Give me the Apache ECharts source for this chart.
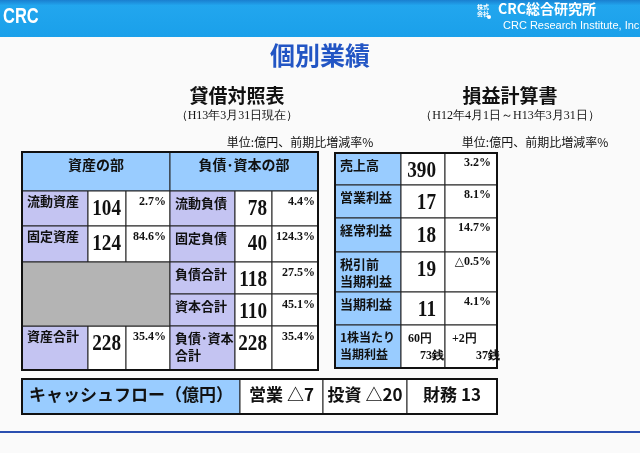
<!DOCTYPE html>
<html><head><meta charset="utf-8">
<script src="https://cdn.jsdelivr.net/npm/echarts@6/dist/echarts.min.js"></script>
<style>html,body{margin:0;padding:0;background:#fafafa}#c{width:640px;height:453px}</style>
</head><body><div id="c"></div>
<script>
// ---- data ----
const assetLabels = ['流動資産','固定資産','資産合計'];
const assetValues = ['104','124','228'];
const assetRates = ['2.7%','84.6%','35.4%'];
const liabLabels = ['流動負債','固定負債','負債合計','資本合計','負債･資本\n合計'];
const liabValues = ['78','40','118','110','228'];
const liabRates = ['4.4%','124.3%','27.5%','45.1%','35.4%'];
const plLabels = ['売上高','営業利益','経常利益','税引前\n当期利益','当期利益','1株当たり\n当期利益'];
const plValues = ['390','17','18','19','11','60円\n　73銭'];
const plRates = ['3.2%','8.1%','14.7%','△0.5%','4.1%','+2円\n　　37銭'];
const cfLabels = ['営業 △7','投資 △20','財務 13'];

const JP = '"Noto Sans CJK JP", sans-serif';
const SERIF = '"Liberation Serif", "DejaVu Serif", serif';
const LAV = '#c4c4f2', BLUE = '#99ccff', GRAY = '#b4b4b4';
const g = [];
function cell(x1,y1,x2,y2,fill){g.push({type:'rect',shape:{x:x1,y:y1,width:x2-x1,height:y2-y1},style:{fill:fill,stroke:'#222',lineWidth:1}});}
function txt(x,y,t,o,extra){g.push(Object.assign({type:'text',x:x,y:y,style:Object.assign({text:t,fill:'#111',font:'bold 13px '+JP,align:'left',verticalAlign:'top'},o||{})},extra||{}));}
function num(x,y,t){txt(x,y,t,{font:'bold 24px '+SERIF,align:'right'},{scaleX:0.8});}

// header band
g.push({type:'rect',shape:{x:0,y:0,width:640,height:37},style:{fill:new echarts.graphic.LinearGradient(0,0,0,1,[{offset:0,color:'#1a7fd0'},{offset:0.15,color:'#22a6ee'},{offset:1,color:'#1aa0ea'}])}});
txt(3,6,'CRC',{fill:'#fff',font:'bold 22px "Liberation Sans", sans-serif'},{scaleX:0.75});
txt(498,2,'CRC総合研究所',{fill:'#fff',font:'bold 14px '+JP});
txt(503,20,'CRC Research Institute, Inc.',{fill:'#fff',font:'11px "Liberation Sans", sans-serif'});
g.push({type:'circle',shape:{cx:489,cy:17,r:2},style:{fill:'#fff'}});
txt(477,3,'株式\n会社',{fill:'#fff',font:'bold 6px '+JP,lineHeight:7});
txt(320,43,'個別業績',{fill:'#2255c4',font:'bold 25px '+JP,align:'center'});
txt(237,86,'貸借対照表',{font:'bold 19px '+JP,align:'center'});
txt(237,110,'（H13年3月31日現在）',{font:'12px '+SERIF,align:'center'});
txt(510,86,'損益計算書',{font:'bold 19px '+JP,align:'center'});
txt(510,110,'（H12年4月1日～H13年3月31日）',{font:'12px '+SERIF,align:'center'});
txt(300,136,'単位:億円、前期比増減率%',{font:'12px '+JP,align:'center'});
txt(535,136,'単位:億円、前期比増減率%',{font:'12px '+JP,align:'center'});

// balance sheet
const cx=[22,88,126,170,235,272,318];
const ry=[191,226,262,294,326,370];
cell(22,152,318,370,'#fff');
cell(22,152,170,191,BLUE); cell(170,152,318,191,BLUE);
txt(96,158,'資産の部',{font:'bold 14px '+JP,align:'center'});
txt(244,158,'負債･資本の部',{font:'bold 14px '+JP,align:'center'});
const aRows=[0,1,4];
aRows.forEach((r,i)=>{
  cell(cx[0],ry[r],cx[1],ry[r+1],LAV); cell(cx[1],ry[r],cx[2],ry[r+1],'#fff'); cell(cx[2],ry[r],cx[3],ry[r+1],'#fff');
  txt(cx[0]+5,ry[r]+4,assetLabels[i]);
  num(cx[2]-5,ry[r]+6,assetValues[i]);
  txt(cx[3]-4,ry[r]+5,assetRates[i],{font:'bold 12px '+SERIF,align:'right'});
});
cell(22,262,170,326,GRAY);
liabLabels.forEach((l,i)=>{
  cell(cx[3],ry[i],cx[4],ry[i+1],LAV); cell(cx[4],ry[i],cx[5],ry[i+1],'#fff'); cell(cx[5],ry[i],cx[6],ry[i+1],'#fff');
  txt(cx[3]+5,ry[i]+4,l,{lineHeight:17});
  num(cx[5]-5,ry[i]+6,liabValues[i]);
  txt(cx[6]-3,ry[i]+5,liabRates[i],{font:'bold 12px '+SERIF,align:'right'});
});
g.push({type:'rect',shape:{x:22,y:152,width:296,height:218},style:{fill:'none',stroke:'#111',lineWidth:2}});

// P/L
const px=[335,401,445,497];
const py=[153,185,218,252,292,325,368];
plLabels.forEach((l,i)=>{
  cell(px[0],py[i],px[1],py[i+1],BLUE); cell(px[1],py[i],px[2],py[i+1],'#fff'); cell(px[2],py[i],px[3],py[i+1],'#fff');
  txt(px[0]+5,py[i]+4,l,{lineHeight:17,font:(i===5?'bold 12px ':'bold 13px ')+JP});
  if(i<5){
    num(px[2]-9,py[i]+6,plValues[i]);
    txt(px[3]-6,py[i]+4,plRates[i],{font:'bold 12px '+SERIF,align:'right'});
  } else {
    txt(px[1]+7,py[i]+5,plValues[i],{font:'bold 12px '+SERIF,lineHeight:17});
    txt(px[2]+7,py[i]+5,plRates[i],{font:'bold 12px '+SERIF,lineHeight:17});
  }
});
g.push({type:'rect',shape:{x:335,y:153,width:162,height:215},style:{fill:'none',stroke:'#111',lineWidth:2}});

// cash flow
const fx=[240,323,407,497];
cell(22,379,240,414,BLUE);
txt(131,386,'キャッシュフロー（億円）',{font:'bold 17px '+JP,align:'center'});
cfLabels.forEach((l,i)=>{
  cell(fx[i],379,fx[i+1],414,'#fff');
  txt((fx[i]+fx[i+1])/2,386,l,{font:'bold 17px '+JP,align:'center'});
});
g.push({type:'rect',shape:{x:22,y:379,width:475,height:35},style:{fill:'none',stroke:'#111',lineWidth:2}});
g.push({type:'rect',shape:{x:0,y:431,width:640,height:2},style:{fill:'#2a4fb0'}});

const chart=echarts.init(document.getElementById('c'));
chart.setOption({backgroundColor:'#fafafa',graphic:g});
</script></body></html>
